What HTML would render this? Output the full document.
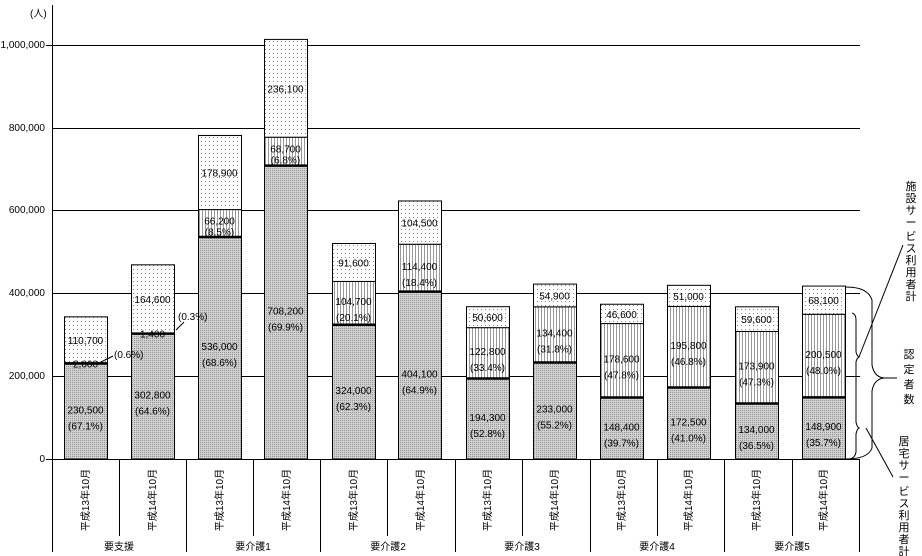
<!DOCTYPE html>
<html><head><meta charset="utf-8"><style>
html,body{margin:0;padding:0;background:#fff;}
svg{display:block;font-family:"Liberation Sans","Noto Sans CJK JP",sans-serif;}
</style></head><body>
<svg id="s" width="922" height="556" xmlns="http://www.w3.org/2000/svg">
<defs>
<pattern id="pTop" width="4" height="4" patternUnits="userSpaceOnUse"><rect width="4" height="4" fill="#fff"/><rect x="1" y="1" width="1" height="1" fill="#888"/></pattern>
<pattern id="pMid" width="3" height="3" patternUnits="userSpaceOnUse"><rect width="3" height="3" fill="#fff"/><rect x="1" y="0" width="1" height="3" fill="#999"/></pattern>
<pattern id="pBot" width="2" height="2" patternUnits="userSpaceOnUse"><rect width="2" height="2" fill="#d0d0d0"/><rect x="0" y="0" width="1" height="1" fill="#959595"/></pattern>
</defs>
<g font-size="10" fill="#000">
<text x="30" y="17">(人)</text>
<text x="45" y="48" text-anchor="end">1,000,000</text>
<text x="45" y="131" text-anchor="end">800,000</text>
<text x="45" y="213" text-anchor="end">600,000</text>
<text x="45" y="296" text-anchor="end">400,000</text>
<text x="45" y="379" text-anchor="end">200,000</text>
<text x="45" y="462" text-anchor="end">0</text>
</g>
<g stroke="#000" stroke-width="1">
<line x1="52" y1="45.5" x2="860" y2="45.5"/>
<line x1="52" y1="128.5" x2="860" y2="128.5"/>
<line x1="52" y1="210.5" x2="860" y2="210.5"/>
<line x1="52" y1="293.5" x2="860" y2="293.5"/>
<line x1="52" y1="376.5" x2="860" y2="376.5"/>
<line x1="52.5" y1="5" x2="52.5" y2="552"/>
<line x1="46" y1="45.5" x2="52" y2="45.5"/>
<line x1="46" y1="459.5" x2="52" y2="459.5"/>
</g>
<g id="bars"></g>
<g stroke="#000" stroke-width="1">
<line x1="52" y1="459.5" x2="860" y2="459.5"/>
<line x1="186.5" y1="459" x2="186.5" y2="552"/>
<line x1="320.5" y1="459" x2="320.5" y2="552"/>
<line x1="455.5" y1="459" x2="455.5" y2="552"/>
<line x1="590.5" y1="459" x2="590.5" y2="552"/>
<line x1="724.5" y1="459" x2="724.5" y2="552"/>
<line x1="859.5" y1="459" x2="859.5" y2="552"/>
<line x1="119.5" y1="459" x2="119.5" y2="536"/>
<line x1="253.5" y1="459" x2="253.5" y2="536"/>
<line x1="387.5" y1="459" x2="387.5" y2="536"/>
<line x1="522.5" y1="459" x2="522.5" y2="536"/>
<line x1="657.5" y1="459" x2="657.5" y2="536"/>
<line x1="792.5" y1="459" x2="792.5" y2="536"/>
</g>
<g font-size="10" text-anchor="middle">
<text x="119" y="550">要支援</text>
<text x="253" y="550">要介護1</text>
<text x="388" y="550">要介護2</text>
<text x="522" y="550">要介護3</text>
<text x="657" y="550">要介護4</text>
<text x="792" y="550">要介護5</text>
</g>
<g font-size="10" text-anchor="middle">
<text transform="translate(89,500) rotate(-90)">平成13年10月</text>
<text transform="translate(156,500) rotate(-90)">平成14年10月</text>
<text transform="translate(223,500) rotate(-90)">平成13年10月</text>
<text transform="translate(290,500) rotate(-90)">平成14年10月</text>
<text transform="translate(357,500) rotate(-90)">平成13年10月</text>
<text transform="translate(424,500) rotate(-90)">平成14年10月</text>
<text transform="translate(491,500) rotate(-90)">平成13年10月</text>
<text transform="translate(558,500) rotate(-90)">平成14年10月</text>
<text transform="translate(625,500) rotate(-90)">平成13年10月</text>
<text transform="translate(692,500) rotate(-90)">平成14年10月</text>
<text transform="translate(760,500) rotate(-90)">平成13年10月</text>
<text transform="translate(827,500) rotate(-90)">平成14年10月</text>
</g>
<g font-size="10">
<text x="114" y="358">(0.6%)</text>
<text x="178" y="320">(0.3%)</text>
</g>
<g stroke="#000" fill="none" stroke-width="1">
<line x1="97" y1="364" x2="113" y2="356"/>
<line x1="176" y1="330" x2="184" y2="322"/>
<path d="M846,287 Q868,287 872,300 L872,365 Q874,377 884,378 L897,378"/>
<path d="M884,378 Q874,379 872,391 L872,448 Q868,459 846,459"/>
<path d="M852,313 Q856,314 856,320 L856,352 Q857,356 859,357 Q857,358 856,362 L856,422 Q857,427 859,428 Q857,429 856,434 L856,452 Q855,458 850,459"/>
<line x1="859" y1="357" x2="903" y2="245"/>
<line x1="866" y1="428" x2="893" y2="477"/>
</g>
<g font-size="11" text-anchor="middle">
<text x="911" y="190">施</text><text x="911" y="202">設</text><text x="911" y="214">サ</text><text x="911" y="226">ー</text><text x="911" y="240">ビ</text><text x="911" y="252">ス</text><text x="911" y="264">利</text><text x="911" y="276">用</text><text x="911" y="288">者</text><text x="911" y="300">計</text>
<text x="909" y="358">認</text><text x="909" y="373">定</text><text x="909" y="388">者</text><text x="909" y="403">数</text>
<text x="904" y="445">居</text><text x="904" y="457">宅</text><text x="904" y="469">サ</text><text x="904" y="481">ー</text><text x="904" y="495">ビ</text><text x="904" y="507">ス</text><text x="904" y="519">利</text><text x="904" y="531">用</text><text x="904" y="543">者</text><text x="904" y="555">計</text>
</g>
</svg>
<script>
var k=0.0004142, base=459;
var xs=[64,131,198,264,332,398,466,533,600,667,735,802];
var D=[
[230500,2000,110700,"230,500","(67.1%)","2,000","","110,700"],
[302800,1400,164600,"302,800","(64.6%)","1,400","","164,600"],
[536000,66200,178900,"536,000","(68.6%)","66,200","(8.5%)","178,900"],
[708200,68700,236100,"708,200","(69.9%)","68,700","(6.8%)","236,100"],
[324000,104700,91600,"324,000","(62.3%)","104,700","(20.1%)","91,600"],
[404100,114400,104500,"404,100","(64.9%)","114,400","(18.4%)","104,500"],
[194300,122800,50600,"194,300","(52.8%)","122,800","(33.4%)","50,600"],
[233000,134400,54900,"233,000","(55.2%)","134,400","(31.8%)","54,900"],
[148400,178600,46600,"148,400","(39.7%)","178,600","(47.8%)","46,600"],
[172500,195800,51000,"172,500","(41.0%)","195,800","(46.8%)","51,000"],
[134000,173900,59600,"134,000","(36.5%)","173,900","(47.3%)","59,600"],
[148900,200500,68100,"148,900","(35.7%)","200,500","(48.0%)","68,100"]];
var g=document.getElementById('bars'),h='',w=43;
D.forEach(function(d,i){
 var x=xs[i],y0=base,y1=base-d[0]*k,y2=y1-d[1]*k,y3=y2-d[2]*k,cx=x+w/2;
 h+='<rect x="'+x+'.5" y="'+y1+'" width="'+w+'" height="'+(y0-y1)+'" fill="url(#pBot)" stroke="#000"/>';
 h+='<rect x="'+x+'.5" y="'+y2+'" width="'+w+'" height="'+(y1-y2)+'" fill="url(#pMid)" stroke="#000"/>';
 h+='<rect x="'+x+'.5" y="'+y3+'" width="'+w+'" height="'+(y2-y3)+'" fill="url(#pTop)" stroke="#000"/>';
 h+='<line x1="'+x+'" x2="'+(x+w+1)+'" y1="'+y1+'" y2="'+y1+'" stroke="#000" stroke-width="2.5"/>';
 function lab(a,b,top,bot){var c=(top+bot)/2,sm=(bot-top)<40;
  if(!b){h+='<text x="'+cx+'" y="'+(c+4)+'" font-size="10" text-anchor="middle">'+a+'</text>';return;}
  h+='<text x="'+cx+'" y="'+(c+(sm?1:2))+'" font-size="10" text-anchor="middle">'+a+'</text>';
  h+='<text x="'+cx+'" y="'+(c+(sm?12:18))+'" font-size="10" text-anchor="middle">'+b+'</text>';}
 lab(d[3],d[4],y1,y0);
 if(d[6])lab(d[5],d[6],y2,y1);else h+='<text x="'+cx+'" y="'+(y1+4)+'" font-size="10" text-anchor="middle">'+d[5]+'</text>';
 lab(d[7],"",y3,y2);
});
g.innerHTML=h;
</script>
</body></html>
